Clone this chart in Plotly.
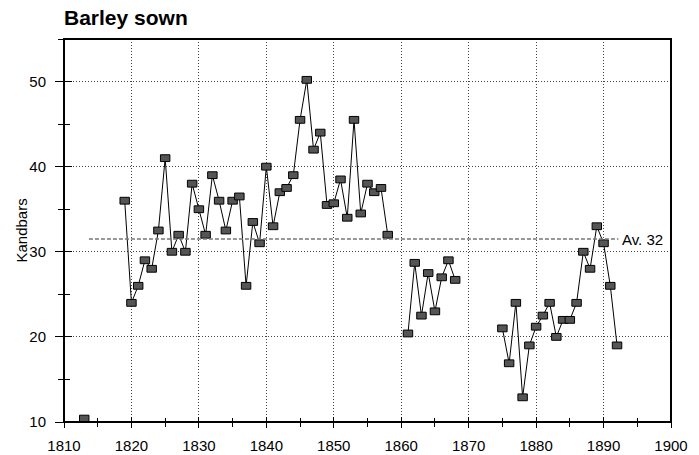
import plotly.graph_objects as go

# ---- data ----
years = list(range(1813, 1893))
kandbars_by_year = {
    1813: 10.4,
    1819: 36.0, 1820: 24.0, 1821: 26.0, 1822: 29.0, 1823: 28.0, 1824: 32.5,
    1825: 41.0, 1826: 30.0, 1827: 32.0, 1828: 30.0, 1829: 38.0, 1830: 35.0,
    1831: 32.0, 1832: 39.0, 1833: 36.0, 1834: 32.5, 1835: 36.0, 1836: 36.5,
    1837: 26.0, 1838: 33.5, 1839: 31.0, 1840: 40.0, 1841: 33.0, 1842: 37.0,
    1843: 37.5, 1844: 39.0, 1845: 45.5, 1846: 50.2, 1847: 42.0, 1848: 44.0,
    1849: 35.5, 1850: 35.7, 1851: 38.5, 1852: 34.0, 1853: 45.5, 1854: 34.5,
    1855: 38.0, 1856: 37.0, 1857: 37.5, 1858: 32.0,
    1861: 20.4, 1862: 28.7, 1863: 22.5, 1864: 27.5, 1865: 23.0, 1866: 27.0,
    1867: 29.0, 1868: 26.7,
    1875: 21.0, 1876: 16.9, 1877: 24.0, 1878: 12.9, 1879: 19.0, 1880: 21.2,
    1881: 22.5, 1882: 24.0, 1883: 20.0, 1884: 22.0, 1885: 22.0, 1886: 24.0,
    1887: 30.0, 1888: 28.0, 1889: 33.0, 1890: 31.0, 1891: 26.0, 1892: 19.0,
}
values = [kandbars_by_year.get(y) for y in years]
average_value = 31.5
average_label = "Av. 32"
title_text = "Barley sown"
y_title = "Kandbars"
x_tick_vals = list(range(1810, 1901, 10))
y_tick_vals = [10, 20, 30, 40, 50]

FONT = "Liberation Sans, Arial, Helvetica, sans-serif"

# marker box size in data units (style)
BOX_W = 1.4
BOX_H = 0.8

px_years = [y for y, v in zip(years, values) if v is not None]
px_vals = [v for v in values if v is not None]

fig = go.Figure()

# connecting line (gaps where years are missing)
fig.add_trace(go.Scatter(
    x=years, y=values, mode="lines", connectgaps=False,
    line=dict(color="black", width=1), xaxis="x", yaxis="y",
    hoverinfo="skip", showlegend=False,
))

# rectangular markers drawn on an overlay subplot so they sit above the line
fig.add_trace(go.Bar(
    x=px_years, y=[BOX_H] * len(px_vals), base=[v - BOX_H / 2 for v in px_vals],
    width=BOX_W, marker=dict(color="#555555", line=dict(color="black", width=1)),
    xaxis="x2", yaxis="y2", showlegend=False, hoverinfo="skip",
))

# average line
fig.add_shape(type="line", xref="x", yref="y", x0=1813.7, x1=1892.2,
              y0=average_value, y1=average_value,
              line=dict(color="#777777", width=1.5, dash="4px,2px"))
fig.add_annotation(x=1892.5, y=average_value, xref="x", yref="y",
                   text=average_label, showarrow=False, xanchor="left",
                   yanchor="middle", font=dict(family=FONT, size=15, color="black"))

fig.add_annotation(x=(21 - 64) / 607, y=0.5, xref="paper", yref="paper", text=y_title,
                   showarrow=False, textangle=-90, xanchor="center", yanchor="middle",
                   font=dict(family=FONT, size=15, color="black"))

# plot frame
fig.add_shape(type="rect", xref="paper", yref="paper", x0=0, x1=1, y0=0, y1=1,
              line=dict(color="black", width=2), layer="above")

grid = dict(showgrid=True, gridcolor="#444444", griddash="1px,2px", gridwidth=1)

fig.update_layout(
    width=699, height=455,
    margin=dict(l=64, r=28, t=39, b=33, autoexpand=False),
    paper_bgcolor="white", plot_bgcolor="white",
    font=dict(family=FONT, size=15, color="black"),
    title=dict(text="<b>" + title_text + "</b>", x=0, xref="paper", xanchor="left",
               y=1 - 18 / 455, yref="container", yanchor="middle",
               font=dict(family=FONT, size=21, color="black")),
    barmode="overlay",
    xaxis=dict(range=[1810, 1900], tickvals=x_tick_vals, ticks="outside",
               ticklen=5, tickwidth=1, tickcolor="black", automargin=False,
               minor=dict(dtick=5, tick0=1810, ticks="outside", ticklen=4,
                          tickwidth=1, tickcolor="black", showgrid=False),
               showline=False, zeroline=False, ticklabelstandoff=5,
               tickfont=dict(family=FONT, size=15, color="black"), **grid),
    yaxis=dict(range=[10, 55], tickvals=y_tick_vals, ticks="outside",
               ticklen=8, tickwidth=1, tickcolor="black", automargin=False,
               minor=dict(dtick=5, tick0=10, ticks="outside", ticklen=5,
                          tickwidth=1, tickcolor="black", showgrid=False),
               showline=False, zeroline=False, ticklabelstandoff=6,
               tickfont=dict(family=FONT, size=15, color="black"), **grid),
    xaxis2=dict(range=[1810, 1900], overlaying="x", tickvals=x_tick_vals,
                ticks="inside", ticklen=5, tickwidth=1, tickcolor="black",
                automargin=False,
                minor=dict(dtick=5, tick0=1810, ticks="inside", ticklen=4,
                           tickwidth=1, tickcolor="black", showgrid=False),
                showticklabels=False, showgrid=False, showline=False, zeroline=False),
    yaxis2=dict(range=[10, 55], overlaying="y", tickvals=y_tick_vals,
                ticks="inside", ticklen=8, tickwidth=1, tickcolor="black",
                automargin=False,
                minor=dict(dtick=5, tick0=10, ticks="inside", ticklen=6,
                           tickwidth=1, tickcolor="black", showgrid=False),
                showticklabels=False, showgrid=False, showline=False, zeroline=False),
)

fig.write_html("out.html", config={"displayModeBar": False},
               post_script="document.body.style.margin='0';")
